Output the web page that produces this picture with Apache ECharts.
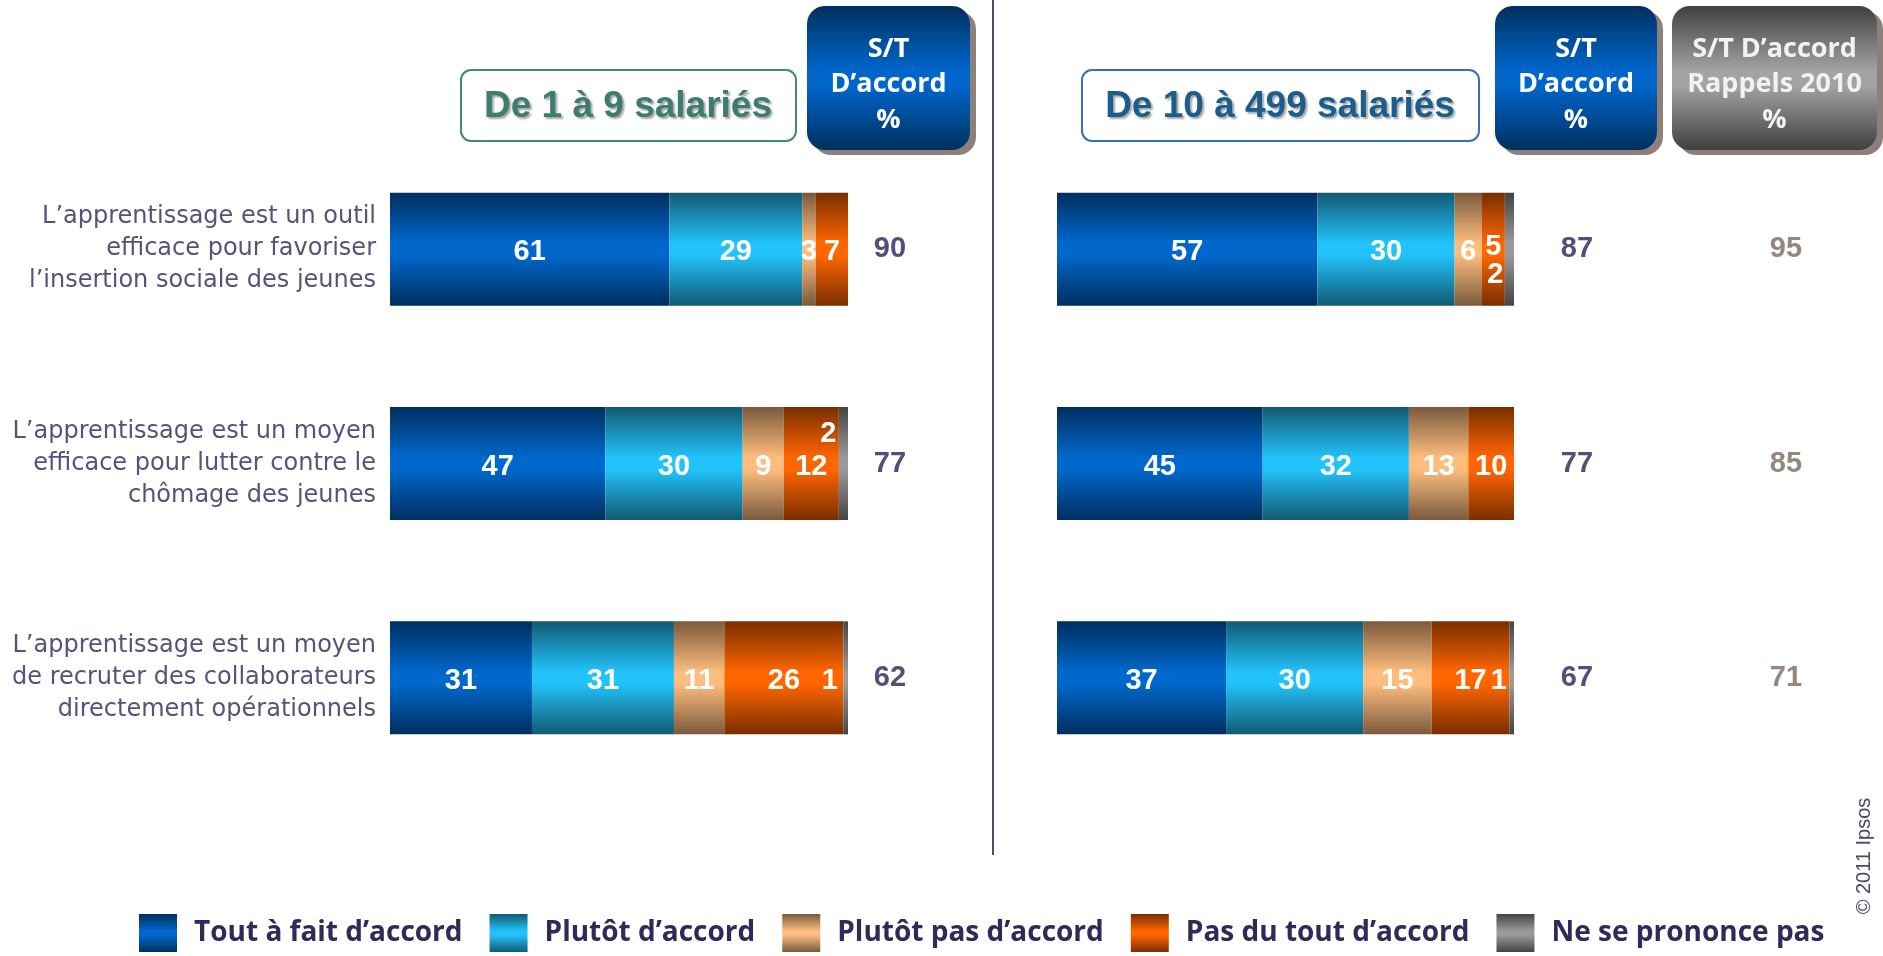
<!DOCTYPE html>
<html>
<head>
<meta charset="utf-8">
<script src="https://cdn.jsdelivr.net/npm/echarts@6/dist/echarts.min.js"></script>
<style>
  html, body { margin: 0; padding: 0; background: #fff; }
  #main { width: 1883px; height: 956px; }
</style>
</head>
<body>
<div id="main"></div>
<script>
// data
var categories = [
  "L\u2019apprentissage est un outil\nefficace pour favoriser\nl\u2019insertion sociale des jeunes",
  "L\u2019apprentissage est un moyen\nefficace pour lutter contre le\nch\u00f4mage des jeunes",
  "L\u2019apprentissage est un moyen\nde recruter des collaborateurs\ndirectement op\u00e9rationnels"
];
var seriesNames = ["Tout \u00e0 fait d\u2019accord", "Plut\u00f4t d\u2019accord", "Plut\u00f4t pas d\u2019accord", "Pas du tout d\u2019accord", "Ne se prononce pas"];

// De 1 à 9 salariés
var small = [
  [61, 47, 31],
  [29, 30, 31],
  [3, 9, 11],
  [7, 12, 26],
  [0, 2, 1]
];
// De 10 à 499 salariés
var big = [
  [57, 45, 37],
  [30, 32, 30],
  [6, 13, 15],
  [5, 10, 17],
  [2, 0, 1]
];
var totalSmall = [90, 77, 62];
var totalBig = [87, 77, 67];
var total2010 = [95, 85, 71];

var colors = [
  ['#002f5e', '#0068cc'],
  ['#125a72', '#22c3fb'],
  ['#7a5a3c', '#fdbd7e'],
  ['#7a2e00', '#ff6600'],
  ['#444444', '#9a9a9a']
];

// where tiny segments push their number aside
var shiftSmall = { '4-1': [-15, -30], '4-2': [-16, 3] };
var shiftBig = { '3-0': [0, -2], '4-0': [-14, 26], '4-2': [-13, 3] };

var chart = echarts.init(document.getElementById('main'));

function grad(c) {
  return new echarts.graphic.LinearGradient(0, 0, 0, 1, [
    { offset: 0, color: c[0] },
    { offset: 0.45, color: c[1] },
    { offset: 0.55, color: c[1] },
    { offset: 1, color: c[0] }
  ]);
}

var barLabel = {
  show: true,
  position: 'inside',
  color: '#fff',
  fontSize: 29,
  fontWeight: 'bold',
  fontFamily: "'Liberation Sans', Arial",
  offset: [0, 3],
  formatter: function (p) { return p.value ? p.value : ''; }
};

function makeSeries(vals, shifts, axis, stack) {
  var out = [];
  for (var i = 0; i < vals.length; i++) {
    var d = [];
    for (var j = 0; j < vals[i].length; j++) {
      var item = { value: vals[i][j] };
      var s = shifts[i + '-' + j];
      if (s) item.label = { offset: s };
      d.push(item);
    }
    out.push({
      name: seriesNames[i],
      type: 'bar',
      stack: stack,
      xAxisIndex: axis,
      yAxisIndex: axis === 0 ? 0 : 2,
      barWidth: 113,
      itemStyle: { color: grad(colors[i]) },
      label: barLabel,
      emphasis: { disabled: true },
      data: d
    });
  }
  return out;
}

var totalLabel = {
  fontSize: 29,
  fontWeight: 'bold',
  fontFamily: "'Liberation Sans', Arial",
  align: 'center'
};

var boxText = {
  fill: '#fff',
  fontSize: 27,
  fontWeight: 'bold',
  fontFamily: "'Open Sans', sans-serif",
  align: 'center',
  verticalAlign: 'middle'
};

function headerBox(x, w, lines, c) {
  var els = [
    { type: 'rect', shape: { x: x + 6, y: 11, width: w, height: 144, r: 18 }, style: { fill: '#8d807b' } },
    { type: 'rect', shape: { x: x, y: 6, width: w, height: 144, r: 18 }, style: { fill: grad(c) } }
  ];
  var ys = [49, 84, 120];
  for (var k = 0; k < lines.length; k++) {
    els.push({ type: 'text', x: x + w / 2, y: ys[k], style: Object.assign({ text: lines[k] }, boxText, c[2] ? { fill: c[2] } : {}) });
  }
  return els;
}

var titleFont = {
  fontSize: 37, fontWeight: 'bold', fontFamily: "'Liberation Sans', Arial",
  align: 'center', verticalAlign: 'middle',
  textShadowColor: 'rgba(0,0,0,0.35)', textShadowOffsetX: 2, textShadowOffsetY: 2, textShadowBlur: 2
};

var graphics = [
  { type: 'line', shape: { x1: 993, y1: 0, x2: 993, y2: 855 }, style: { stroke: '#4f4a72', lineWidth: 2 } },
  { type: 'rect', shape: { x: 461, y: 70, width: 335, height: 71, r: 10 }, style: { fill: '#fff', stroke: '#3f8a78', lineWidth: 2 } },
  { type: 'text', x: 628, y: 107, style: Object.assign({ text: 'De 1 \u00e0 9 salari\u00e9s', fill: '#3d7d6e' }, titleFont) },
  { type: 'rect', shape: { x: 1082, y: 70, width: 397, height: 71, r: 10 }, style: { fill: '#fff', stroke: '#3a6cc0', lineWidth: 2 } },
  { type: 'text', x: 1280, y: 107, style: Object.assign({ text: 'De 10 \u00e0 499 salari\u00e9s', fill: '#1b5e8e' }, titleFont) },
  { type: 'text', x: 1864, y: 856, rotation: Math.PI / 2, style: { text: '\u00a9 2011 Ipsos', fill: '#4a4668', fontSize: 20,
      fontFamily: "'Liberation Sans', Arial", align: 'center', verticalAlign: 'middle' } }
];
graphics = graphics
  .concat(headerBox(807, 163, ['S/T', 'D\u2019accord', '%'], ['#00305f', '#0066cc']))
  .concat(headerBox(1495, 162, ['S/T', 'D\u2019accord', '%'], ['#00305f', '#0066cc']))
  .concat(headerBox(1672, 205, ['S/T D\u2019accord', 'Rappels 2010', '%'], ['#404040', '#a3a3a3', '#f2f2f2']));

var option = {
  backgroundColor: '#fff',
  animation: false,
  legend: {
    data: seriesNames,
    left: 134,
    top: 909,
    icon: 'rect',
    itemWidth: 38,
    itemHeight: 38,
    itemGap: 27,
    textStyle: { fontFamily: "'Open Sans', sans-serif", fontWeight: 'bold', fontSize: 28, color: '#2e2a5a', padding: [16, 0, 0, 12] },
    selectedMode: false
  },
  grid: [
    { left: 390, width: 458, top: 142, height: 643 },
    { left: 1057, width: 457, top: 142, height: 643 }
  ],
  xAxis: [
    { type: 'value', gridIndex: 0, min: 0, max: 100, show: false },
    { type: 'value', gridIndex: 1, min: 0, max: 100, show: false }
  ],
  yAxis: [
    { type: 'category', gridIndex: 0, inverse: true, data: categories,
      axisLine: { show: false }, axisTick: { show: false },
      axisLabel: { margin: 14, fontSize: 24, lineHeight: 32, color: '#57527a', fontFamily: "'DejaVu Sans', sans-serif" } },
    { type: 'category', gridIndex: 0, inverse: true, position: 'right', data: totalSmall,
      axisLine: { show: false }, axisTick: { show: false },
      axisLabel: Object.assign({ margin: 42, color: '#564e7a' }, totalLabel) },
    { type: 'category', gridIndex: 1, inverse: true, data: categories,
      axisLine: { show: false }, axisTick: { show: false }, axisLabel: { show: false } },
    { type: 'category', gridIndex: 1, inverse: true, position: 'right', data: totalBig,
      axisLine: { show: false }, axisTick: { show: false },
      axisLabel: Object.assign({ margin: 63, color: '#564e7a' }, totalLabel) },
    { type: 'category', gridIndex: 1, inverse: true, position: 'right', data: total2010,
      axisLine: { show: false }, axisTick: { show: false },
      axisLabel: Object.assign({ margin: 272, color: '#958780' }, totalLabel) }
  ],
  graphic: graphics,
  series: makeSeries(small, shiftSmall, 0, 'small').concat(makeSeries(big, shiftBig, 1, 'big'))
};

chart.setOption(option);
</script>
</body>
</html>
